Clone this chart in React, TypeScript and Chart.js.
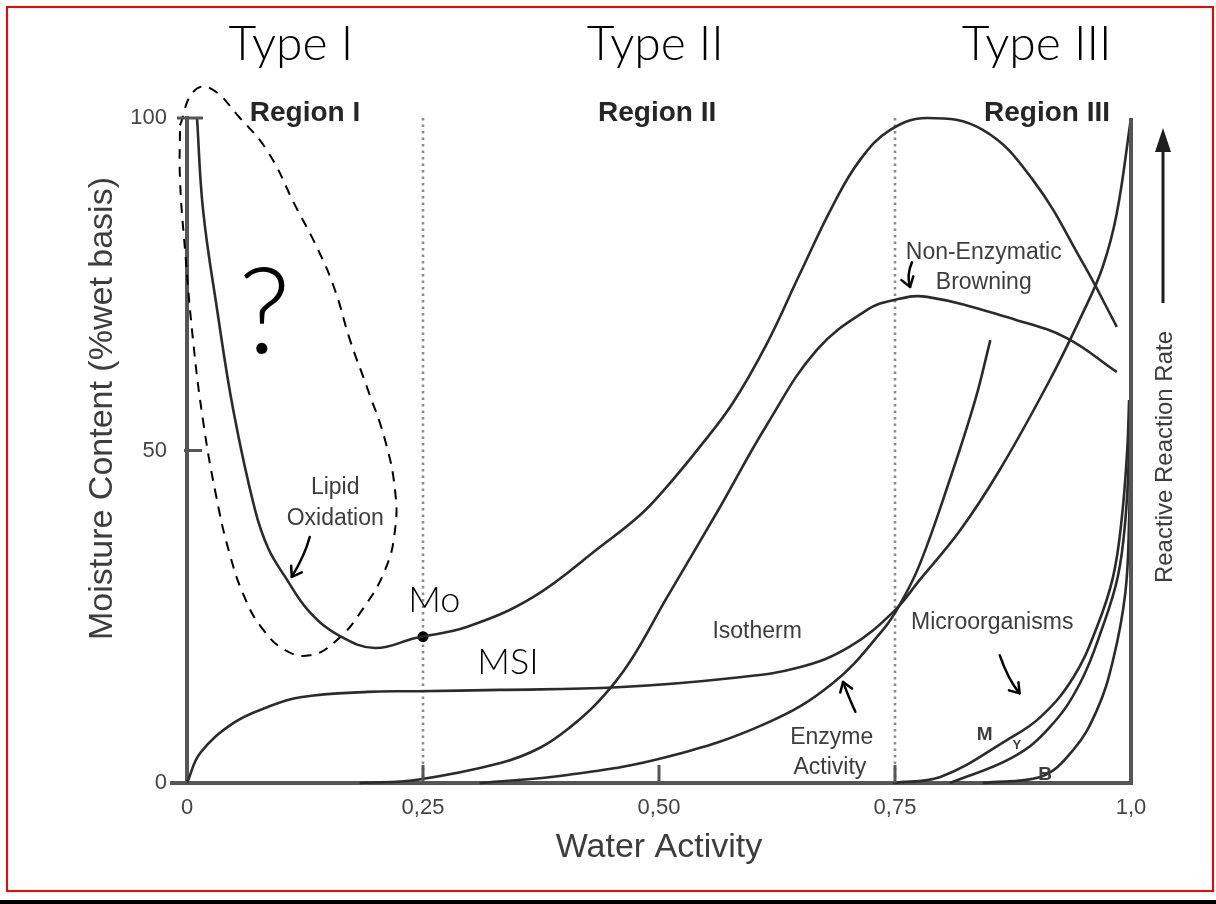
import React, { useEffect, useRef } from "react";
import { Chart, registerables } from "chart.js";

Chart.register(...registerables);

// ---------- axes ----------
const xTicks = [0, 0.25, 0.5, 0.75, 1.0];
const xTickLabels = ["0", "0,25", "0,50", "0,75", "1,0"];
const yTicks = [0, 50, 100];
const yTickLabels = ["0", "50", "100"];
const xTitle = "Water Activity";
const yTitle = "Moisture Content (%wet basis)";
const rightTitle = "Reactive Reaction Rate";

// ---------- regions ----------
const regionLabels = ["Region I", "Region II", "Region III"];
const regionCenters = [0.125, 0.498, 0.911];
const regionBounds = [0.25, 0.75];

// ---------- curves (water activity, value) ----------
const lipidOxidation: number[][] = [
  [0.0106, 100], [0.017, 86.2], [0.032, 71.1], [0.049, 56.1], [0.072, 41.1],
  [0.086, 35.3], [0.104, 31.0], [0.13, 25.7], [0.162, 22.1], [0.199, 20.3],
  [0.242, 21.8], [0.297, 23.5], [0.367, 28.0], [0.4375, 35.5], [0.48, 40.3],
  [0.508, 44.5], [0.543, 50.5], [0.578, 57.1], [0.614, 66.0], [0.649, 76.5],
  [0.684, 86.8], [0.713, 93.7], [0.745, 98.2], [0.784, 100], [0.843, 98.2],
  [0.896, 90.7], [0.949, 78.2], [0.985, 68.6],
];
const nonEnzymaticBrowning: number[][] = [
  [0.183, 0], [0.244, 0.5], [0.332, 3.0], [0.374, 5.3], [0.406, 8.4],
  [0.4375, 12.5], [0.469, 18.2], [0.508, 27.8], [0.561, 40.6], [0.614, 53.8],
  [0.667, 65.1], [0.72, 71.1], [0.748, 72.6], [0.784, 73.1], [0.879, 69.6],
  [0.932, 66.9], [0.985, 61.8],
];
const enzymeActivity: number[][] = [
  [0.31, 0], [0.403, 1.2], [0.508, 3.9], [0.614, 9.0], [0.684, 15.0],
  [0.737, 23.0], [0.755, 26.8], [0.776, 32.8], [0.808, 45.6], [0.835, 57.6],
  [0.851, 66.6],
];
const isotherm: number[][] = [
  [0, 0], [0.014, 4.5], [0.049, 9.0], [0.085, 11.4], [0.12, 12.9],
  [0.191, 13.7], [0.244, 13.8], [0.332, 14.0], [0.456, 14.4], [0.578, 15.8],
  [0.649, 17.4], [0.702, 20.5], [0.748, 25.7], [0.776, 30.5], [0.819, 38.0],
  [0.861, 47.1], [0.914, 60.6], [0.949, 70.7], [0.97, 77.6], [0.985, 85.7],
  [1.0, 100],
];
const moulds: number[][] = [
  [0.748, 0], [0.798, 0.9], [0.869, 6.5], [0.904, 9.9], [0.939, 15.9],
  [0.964, 23.5], [0.981, 31.0], [0.99, 39.5], [0.996, 50.1], [0.998, 57.6],
];
const yeasts: number[][] = [
  [0.808, 0], [0.875, 3.9], [0.914, 8.4], [0.946, 15.0], [0.97, 23.5],
  [0.986, 31.0], [0.994, 39.5], [0.998, 50.1], [0.999, 57.6],
];
const bacteria: number[][] = [
  [0.843, 0], [0.904, 0.9], [0.939, 5.0], [0.964, 11.0], [0.981, 18.5],
  [0.994, 28.6], [0.998, 39.5], [0.999, 50.1], [1.0, 57.6],
];
const monolayerPoint: number[][] = [[0.25, 22.0]];

// ---------- printed annotations (text, x, y) ----------
const curveLabels: [string, number, number][] = [
  ["Lipid", 0.157, 44.4],
  ["Oxidation", 0.157, 39.8],
  ["Non-Enzymatic", 0.844, 79.7],
  ["Browning", 0.844, 75.3],
  ["Isotherm", 0.604, 22.7],
  ["Microorganisms", 0.853, 24.1],
  ["Enzyme", 0.683, 6.8],
  ["Activity", 0.681, 2.3],
];
const organismLetters: [string, number, number][] = [
  ["M", 0.845, 7.2],
  ["Y", 0.879, 5.6],
  ["B", 0.909, 1.2],
];

// ---------- handwritten notes ----------
const typeLabels = ["Type I", "Type II", "Type III"];
const typeCenters = [0.11, 0.496, 0.9];
const typeLevel = 111;
const handNotes: [string, number, number][] = [
  ["Mo", 0.262, 27.5],
  ["MSI", 0.34, 18.2],
];
const questionMark: [string, number, number][] = [["?", 0.082, 70.5]];
const lipidLoop: number[][] = [
  [-0.0074, 98.9], [0.0064, 103.9], [0.0244, 104.5], [0.0561, 100.0],
  [0.0858, 94.9], [0.1144, 86.9], [0.1388, 80.2], [0.1568, 74.1],
  [0.1727, 66.6], [0.1917, 59.1], [0.2097, 51.6], [0.2203, 44.1],
  [0.2203, 38.0], [0.2097, 32.0], [0.1854, 26.0], [0.1589, 21.5],
  [0.1303, 19.2], [0.1038, 20.0], [0.0794, 23.3], [0.0614, 27.8],
  [0.0455, 34.3], [0.0307, 43.3], [0.0169, 54.6], [0.0064, 66.6],
  [-0.0021, 80.2], [-0.0074, 90.7], [-0.0074, 98.9],
];
const handArrows: number[][][] = [
  [[0.13, 37.0], [0.125, 34.3], [0.111, 31.0]],
  [[0.708, 10.7], [0.7, 13.2], [0.695, 15.2]],
  [[0.861, 19.2], [0.87, 15.5], [0.882, 13.5]],
  [[0.768, 78.3], [0.762, 76.4], [0.766, 74.6]],
];

const FONT = "'Liberation Sans', Arial, sans-serif";
const HAND = "'Lato', 'Open Sans', sans-serif";
const CURVE = "#2b2b2b";
const AXIS = "#555555";
const TEXT = "#3d3d3d";

const toXY = (pts: number[][]) => pts.map(([x, y]) => ({ x, y }));

const overlay = {
  id: "overlay",
  beforeDatasetsDraw(chart: any) {
    const { ctx, chartArea: a, scales } = chart;
    const X = (v: number) => scales.x.getPixelForValue(v);
    ctx.save();
    ctx.strokeStyle = "#8c8c8c";
    ctx.lineWidth = 2.6;
    ctx.setLineDash([2.5, 4]);
    regionBounds.forEach((b) => {
      ctx.beginPath();
      ctx.moveTo(X(b), a.top);
      ctx.lineTo(X(b), a.bottom);
      ctx.stroke();
    });
    ctx.restore();
  },
  afterDatasetsDraw(chart: any) {
    const { ctx, chartArea: a, scales } = chart;
    const X = (v: number) => scales.x.getPixelForValue(v);
    const Y = (v: number) => scales.y.getPixelForValue(v);
    ctx.save();
    ctx.setLineDash([]);
    // right axis + extensions
    ctx.strokeStyle = AXIS;
    ctx.lineWidth = 4;
    ctx.beginPath();
    ctx.moveTo(a.right, a.top);
    ctx.lineTo(a.right, a.bottom + 2);
    ctx.stroke();
    ctx.beginPath();
    ctx.moveTo(a.left - 17, a.bottom);
    ctx.lineTo(a.left, a.bottom);
    ctx.stroke();
    // y ticks
    ctx.lineWidth = 3;
    ctx.beginPath();
    ctx.moveTo(a.left - 10, Y(yTicks[2]));
    ctx.lineTo(a.left + 16, Y(yTicks[2]));
    ctx.moveTo(a.left - 3, Y(yTicks[1]));
    ctx.lineTo(a.left + 15, Y(yTicks[1]));
    ctx.stroke();
    // inner x ticks
    xTicks.slice(1, -1).forEach((v) => {
      ctx.beginPath();
      ctx.moveTo(X(v), a.bottom);
      ctx.lineTo(X(v), a.bottom - 18);
      ctx.stroke();
    });

    // region labels
    ctx.fillStyle = "#262626";
    ctx.font = `bold 28px ${FONT}`;
    ctx.textAlign = "center";
    ctx.textBaseline = "middle";
    regionLabels.forEach((t, i) => ctx.fillText(t, X(regionCenters[i]), a.top - 5));

    // curve labels
    ctx.fillStyle = TEXT;
    ctx.font = `23px ${FONT}`;
    curveLabels.forEach(([t, x, y]) => ctx.fillText(t, X(x), Y(y)));
    organismLetters.forEach(([t, x, y], i) => {
      ctx.font = i === 1 ? `bold 13px ${FONT}` : `bold 19px ${FONT}`;
      ctx.fillText(t, X(x), Y(y));
    });

    // y title
    ctx.save();
    ctx.translate(a.left - 84, (a.top + a.bottom) / 2 - 42);
    ctx.rotate(-Math.PI / 2);
    ctx.font = `34px ${FONT}`;
    ctx.fillStyle = TEXT;
    ctx.fillText(yTitle, 0, 0);
    ctx.restore();

    // right arrow + title
    const ax = a.right + 32;
    ctx.strokeStyle = "#1e1e1e";
    ctx.fillStyle = "#1e1e1e";
    ctx.lineWidth = 3;
    ctx.beginPath();
    ctx.moveTo(ax, a.top + 185);
    ctx.lineTo(ax, a.top + 25);
    ctx.stroke();
    ctx.beginPath();
    ctx.moveTo(ax, a.top + 10);
    ctx.lineTo(ax - 8, a.top + 34);
    ctx.lineTo(ax + 8, a.top + 34);
    ctx.closePath();
    ctx.fill();
    ctx.save();
    ctx.translate(ax + 2, a.top + 339);
    ctx.rotate(-Math.PI / 2);
    ctx.font = `24px ${FONT}`;
    ctx.fillStyle = TEXT;
    ctx.fillText(rightTitle, 0, 0);
    ctx.restore();

    // handwritten notes
    ctx.fillStyle = "#000";
    ctx.font = `300 48px ${HAND}`;
    typeLabels.forEach((t, i) => ctx.fillText(t, X(typeCenters[i]), Y(typeLevel)));
    ctx.font = `300 36px ${HAND}`;
    handNotes.forEach(([t, x, y]) => ctx.fillText(t, X(x), Y(y)));
    ctx.font = `300 120px ${HAND}`;
    questionMark.forEach(([t, x, y]) => ctx.fillText(t, X(x), Y(y)));

    // hand arrows
    ctx.strokeStyle = "#000";
    ctx.lineWidth = 2.5;
    ctx.lineCap = "round";
    ctx.lineJoin = "round";
    handArrows.forEach((pts) => {
      const p = pts.map(([x, y]) => [X(x), Y(y)]);
      ctx.beginPath();
      ctx.moveTo(p[0][0], p[0][1]);
      ctx.quadraticCurveTo(p[1][0], p[1][1], p[2][0], p[2][1]);
      ctx.stroke();
      const ang = Math.atan2(p[2][1] - p[1][1], p[2][0] - p[1][0]);
      const L = 11;
      ctx.beginPath();
      ctx.moveTo(p[2][0] + L * Math.cos(ang + Math.PI - 0.6), p[2][1] + L * Math.sin(ang + Math.PI - 0.6));
      ctx.lineTo(p[2][0], p[2][1]);
      ctx.lineTo(p[2][0] + L * Math.cos(ang + Math.PI + 0.6), p[2][1] + L * Math.sin(ang + Math.PI + 0.6));
      ctx.stroke();
    });
    ctx.restore();
  },
};

export default function App() {
  const ref = useRef<HTMLCanvasElement>(null);
  useEffect(() => {
    if (!ref.current) return;
    Chart.defaults.font.family = FONT;
    const curve = (label: string, pts: number[][]) => ({
      label,
      data: toXY(pts),
      borderColor: CURVE,
      borderWidth: 2.6,
      pointRadius: 0,
      fill: false,
      tension: 0.4,
      clip: false as const,
    });
    const chart = new Chart(ref.current, {
      type: "line",
      data: {
        datasets: [
          curve("Lipid Oxidation", lipidOxidation),
          curve("Non-Enzymatic Browning", nonEnzymaticBrowning),
          curve("Enzyme Activity", enzymeActivity),
          curve("Isotherm", isotherm),
          curve("M", moulds),
          curve("Y", yeasts),
          curve("B", bacteria),
          {
            label: "Lipid region (hand-drawn)",
            data: toXY(lipidLoop),
            borderColor: "#000",
            borderWidth: 2,
            borderDash: [10, 8],
            pointRadius: 0,
            tension: 0.45,
            fill: false,
            clip: false as const,
          },
          {
            label: "Mo",
            data: toXY(monolayerPoint),
            showLine: false,
            pointRadius: 5.5,
            pointBackgroundColor: "#000",
            pointBorderColor: "#000",
            pointBorderWidth: 0,
            clip: false as const,
          },
        ],
      },
      options: {
        responsive: false,
        animation: false,
        devicePixelRatio: 1,
        events: [],
        layout: { padding: { left: 0, top: 118, right: 85, bottom: 0 } },
        plugins: { legend: { display: false }, tooltip: { enabled: false } },
        scales: {
          x: {
            type: "linear",
            min: 0,
            max: 1,
            afterFit: (s: any) => {
              s.height = 121;
            },
            afterBuildTicks: (s: any) => {
              s.ticks = xTicks.map((v) => ({ value: v }));
            },
            ticks: {
              callback: (_v: any, i: number) => xTickLabels[i],
              color: "#444",
              font: { size: 22, family: FONT },
              padding: 12,
              maxRotation: 0,
              autoSkip: false,
            },
            grid: { display: false, drawTicks: false },
            border: { display: true, color: AXIS, width: 4 },
            title: {
              display: true,
              text: xTitle,
              color: TEXT,
              font: { size: 34, family: FONT },
              padding: { top: 0, bottom: 36 },
            },
          },
          y: {
            type: "linear",
            min: 0,
            max: 100,
            afterFit: (s: any) => {
              s.width = 187;
            },
            afterBuildTicks: (s: any) => {
              s.ticks = yTicks.map((v) => ({ value: v }));
            },
            ticks: {
              callback: (_v: any, i: number) => yTickLabels[i],
              color: "#444",
              font: { size: 22, family: FONT },
              padding: 20,
              autoSkip: false,
            },
            grid: { display: false, drawTicks: false },
            border: { display: true, color: AXIS, width: 4 },
          },
        },
      },
      plugins: [overlay],
    });
    return () => chart.destroy();
  }, []);

  return (
    <div style={{ position: "fixed", left: 0, top: 0, width: 1216, height: 904, background: "#fff" }}>
      <canvas ref={ref} width={1216} height={904} style={{ display: "block", width: 1216, height: 904 }} />
      <div
        style={{
          position: "absolute",
          left: 6,
          top: 6,
          width: 1208,
          height: 886,
          border: "2px solid #ff0000",
          boxSizing: "border-box",
          pointerEvents: "none",
        }}
      />
      <div style={{ position: "absolute", left: 0, top: 900, width: 1216, height: 4, background: "#000" }} />
    </div>
  );
}
